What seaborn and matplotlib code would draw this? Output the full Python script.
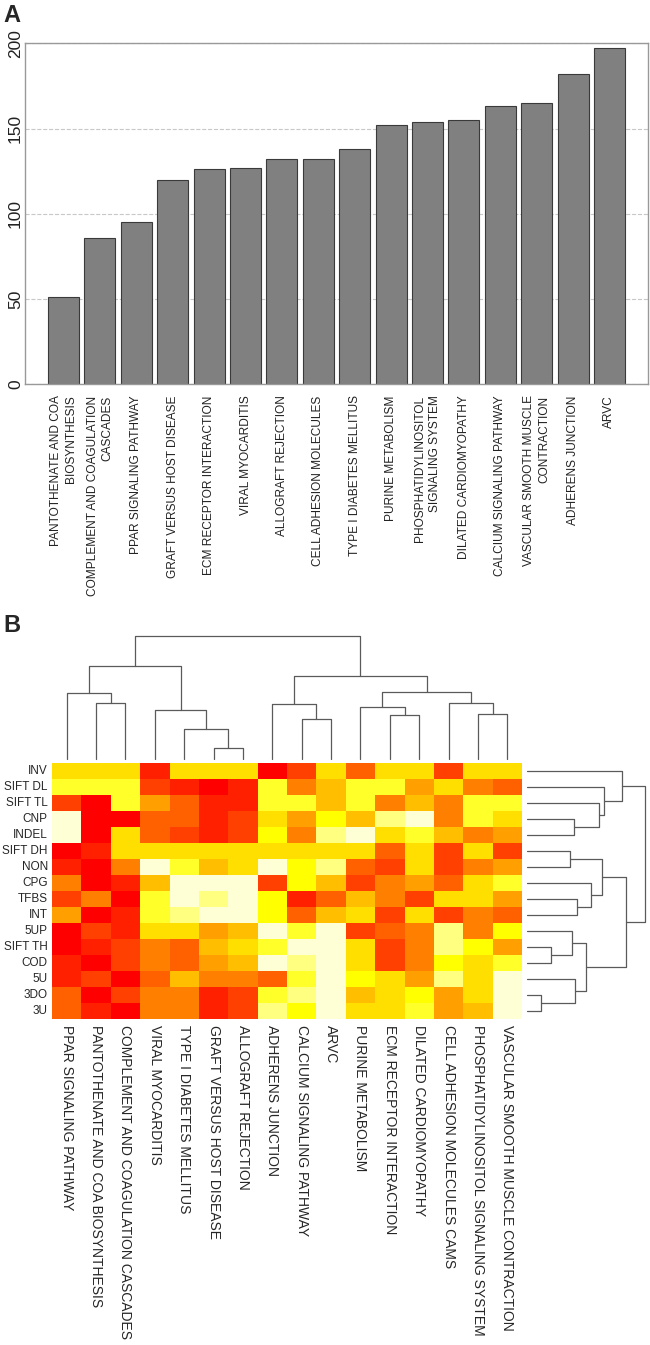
import numpy as np
import pandas as pd
import matplotlib
matplotlib.use("Agg")
import matplotlib.pyplot as plt
import seaborn as sns
from matplotlib.colors import ListedColormap

# %% data
bar_labels = ["PANTOTHENATE AND COA\nBIOSYNTHESIS", "COMPLEMENT AND COAGULATION\nCASCADES",
              "PPAR SIGNALING PATHWAY", "GRAFT VERSUS HOST DISEASE", "ECM RECEPTOR INTERACTION",
              "VIRAL MYOCARDITIS", "ALLOGRAFT REJECTION", "CELL ADHESION MOLECULES",
              "TYPE I DIABETES MELLITUS", "PURINE METABOLISM", "PHOSPHATIDYLINOSITOL\nSIGNALING SYSTEM",
              "DILATED CARDIOMYOPATHY", "CALCIUM SIGNALING PATHWAY", "VASCULAR SMOOTH MUSCLE\nCONTRACTION",
              "ADHERENS JUNCTION", "ARVC"]
bar_counts = [51, 86, 95, 120, 126, 127, 132, 132, 138, 152, 154, 155, 163, 165, 182, 197]

col_labels = ["PPAR SIGNALING PATHWAY", "PANTOTHENATE AND COA BIOSYNTHESIS",
              "COMPLEMENT AND COAGULATION CASCADES", "VIRAL MYOCARDITIS", "TYPE I DIABETES MELLITUS",
              "GRAFT VERSUS HOST DISEASE", "ALLOGRAFT REJECTION", "ADHERENS JUNCTION",
              "CALCIUM SIGNALING PATHWAY", "ARVC", "PURINE METABOLISM", "ECM RECEPTOR INTERACTION",
              "DILATED CARDIOMYOPATHY", "CELL ADHESION MOLECULES CAMS",
              "PHOSPHATIDYLINOSITOL SIGNALING SYSTEM", "VASCULAR SMOOTH MUSCLE CONTRACTION"]
row_labels = ["INV", "SIFT DL", "SIFT TL", "CNP", "INDEL", "SIFT DH", "NON", "CPG",
              "TFBS", "INT", "5UP", "SIFT TH", "COD", "5U", "3DO", "3U"]

# colour level of each cell (0 = red ... 11 = pale yellow)
levels = [
    [7, 7, 7, 1, 7, 7, 7, 0, 2, 7, 3, 7, 7, 2, 7, 7],
    [9, 9, 9, 2, 1, 0, 1, 9, 4, 6, 9, 9, 5, 7, 4, 3],
    [2, 0, 9, 5, 3, 1, 1, 9, 9, 6, 9, 4, 6, 4, 9, 9],
    [11, 0, 0, 3, 3, 1, 2, 7, 5, 8, 6, 10, 11, 4, 9, 7],
    [11, 0, 7, 3, 2, 1, 2, 8, 4, 10, 11, 7, 9, 6, 4, 5],
    [0, 1, 7, 7, 7, 7, 7, 7, 7, 7, 7, 3, 7, 2, 7, 2],
    [1, 0, 4, 11, 9, 6, 7, 11, 8, 10, 3, 2, 7, 2, 4, 5],
    [4, 0, 1, 6, 11, 11, 11, 2, 8, 6, 2, 4, 5, 3, 7, 9],
    [2, 4, 0, 9, 11, 10, 11, 8, 1, 3, 6, 4, 2, 7, 7, 5],
    [5, 0, 1, 9, 10, 11, 11, 8, 3, 6, 7, 2, 7, 2, 4, 3],
    [0, 2, 1, 7, 7, 5, 6, 11, 9, 11, 2, 3, 4, 10, 4, 8],
    [0, 1, 2, 4, 3, 6, 7, 9, 11, 11, 7, 2, 4, 10, 8, 5],
    [1, 0, 2, 4, 3, 5, 6, 11, 10, 11, 7, 2, 4, 8, 7, 9],
    [1, 2, 0, 3, 6, 4, 4, 3, 9, 11, 8, 7, 5, 10, 7, 11],
    [3, 0, 2, 4, 4, 1, 2, 9, 10, 11, 6, 7, 8, 5, 7, 11],
    [3, 1, 0, 4, 4, 1, 2, 10, 8, 11, 7, 7, 9, 5, 6, 11],
]

# dendrogram merges: (child a, child b, height); new cluster ids start at 16
col_merges = [(1, 2, 56.6), (0, 16, 66), (5, 6, 11.6), (4, 18, 30), (3, 19, 49),
              (17, 20, 93.6), (8, 9, 40.3), (7, 22, 55.6), (11, 12, 44), (10, 24, 52.6),
              (14, 15, 45), (13, 26, 56), (25, 27, 67.3), (23, 28, 83), (21, 29, 123.3)]
row_merges = [(3, 4, 47.3), (2, 16, 72.3), (1, 17, 77.6), (0, 18, 95), (5, 6, 43.3),
              (8, 9, 50.3), (7, 21, 64), (20, 22, 75), (11, 12, 24), (10, 24, 45),
              (14, 15, 14.3), (13, 26, 48.3), (25, 27, 59), (23, 28, 99), (19, 29, 118)]

heat12 = ["#FF0000", "#FF2000", "#FF4000", "#FF6000", "#FF8000", "#FF9F00",
          "#FFBF00", "#FFDF00", "#FFFF00", "#FFFF2A", "#FFFF80", "#FFFFD5"]

# %% setup
sns.set_style("white")
plt.rcParams["font.family"] = ["Liberation Sans", "DejaVu Sans"]

W, H = 650, 1345
fig = plt.figure(figsize=(W / 100, H / 100), dpi=100)


def add_ax(l, t, r, b):
    return fig.add_axes([l / W, 1 - b / H, (r - l) / W, (b - t) / H])


def dendro_segments(merges, n):
    pos = {i: i + 0.5 for i in range(n)}
    hgt = {i: 0.0 for i in range(n)}
    segs = []
    for k, (a, b, h) in enumerate(merges):
        segs.append(([pos[a], pos[a], pos[b], pos[b]], [hgt[a], h, h, hgt[b]]))
        pos[n + k] = (pos[a] + pos[b]) / 2
        hgt[n + k] = h
    return segs


# %% panel A
ax = add_ax(25, 43.3, 648, 384.3)
df_bar = pd.DataFrame({"pathway": bar_labels, "count": bar_counts})
sns.barplot(data=df_bar, x="pathway", y="count", color="#808080", saturation=1,
            edgecolor="#3a3a3a", linewidth=0.8, width=0.85, ax=ax)
ax.set_ylim(0, 200)
ax.set_xlim(-1.06, 16.06)
ax.set_yticks([0, 50, 100, 150, 200])
ax.set_yticklabels(["0", "50", "100", "150", "200"], rotation=90, va="center",
                   fontsize=12.5, color="#222222")
ax.set_xticks(range(len(bar_labels)))
ax.set_xticklabels(bar_labels, rotation=90, fontsize=8.6, multialignment="right",
                   linespacing=1.3, color="#222222")
ax.tick_params(axis="both", length=0)
ax.tick_params(axis="x", pad=8)
ax.tick_params(axis="y", pad=1.5)
ax.set_xlabel("")
ax.set_ylabel("")
ax.yaxis.grid(True, linestyle="--", color="#c8c8c8", linewidth=0.8)
ax.set_axisbelow(True)
for s in ax.spines.values():
    s.set_color("#999999")
    s.set_linewidth(1.0)

fig.text(3 / W, 1 - 4 / H, "A", fontsize=17, fontweight="bold", va="top", ha="left")
fig.text(3 / W, 1 - 614 / H, "B", fontsize=17, fontweight="bold", va="top", ha="left")

# %% panel B heatmap
hm = add_ax(52, 763, 522, 1019)
df_hm = pd.DataFrame(levels, index=row_labels, columns=col_labels)
sns.heatmap(df_hm, cmap=ListedColormap(heat12), vmin=-0.5, vmax=11.5, cbar=False,
            xticklabels=True, yticklabels=True, ax=hm)
hm.set_xticklabels(col_labels, rotation=270, fontsize=10, va="top", ha="center")
hm.set_yticklabels(row_labels, rotation=0, fontsize=8.5)
hm.tick_params(axis="both", length=0)
hm.tick_params(axis="x", pad=4)
hm.tick_params(axis="y", pad=3)
hm.set_xlabel("")
hm.set_ylabel("")

# column dendrogram
cd = add_ax(52, 636, 522, 759.3)
for xs, ys in dendro_segments(col_merges, 16):
    cd.plot(xs, ys, color="#5a5a5a", lw=0.9, clip_on=False)
cd.set_xlim(0, 16)
cd.set_ylim(0, 123.3)
cd.axis("off")

# row dendrogram
rd = add_ax(526.7, 763, 645, 1019)
for ys, xs in dendro_segments(row_merges, 16):
    rd.plot(xs, ys, color="#5a5a5a", lw=0.9, clip_on=False)
rd.set_ylim(16, 0)
rd.set_xlim(0, 118)
rd.axis("off")

fig.savefig("out.png", dpi=100)
